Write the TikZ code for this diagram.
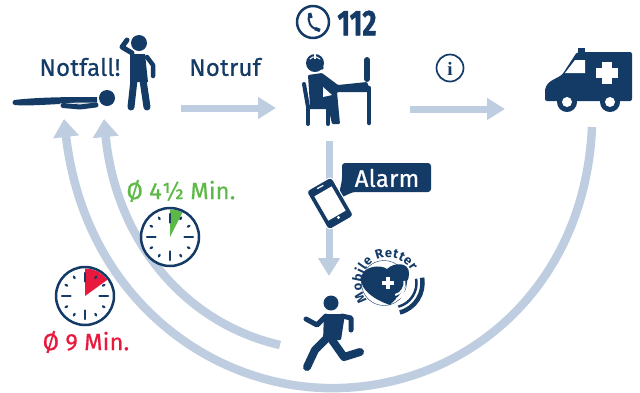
\documentclass[tikz,border=0pt]{standalone}
\usepackage{fontspec}
\setmainfont{Fira Sans}
\newfontfamily\infofont{Liberation Serif}
\newfontfamily\labelfont[FakeBold=0.7,LetterSpace=1]{Fira Sans}
\newfontfamily\numberfont[FakeStretch=0.76,BoldFeatures={FakeBold=1}]{Fira Sans}
\usetikzlibrary{arrows.meta}
\definecolor{navy}{HTML}{143A66}
\definecolor{flow}{HTML}{BFCDE0}
\definecolor{okgreen}{HTML}{5DB947}
\definecolor{alertred}{HTML}{E8193C}
\begin{document}
\begin{tikzpicture}[x=1pt,y=-1pt,line cap=round,line join=round,
  every node/.style={inner sep=0pt},
  caption/.style={text=navy,font=\fontsize{24}{24}\labelfont},
  timelabel/.style={font=\fontsize{23.5}{24}\labelfont},
  logoletter/.style={text=navy,anchor=base,font=\fontsize{13}{13}\selectfont\bfseries},
  flowthin/.style={flow,line width=7pt,line cap=butt,-{Triangle[length=18pt,width=21pt]}},
  flowwide/.style={flow,line width=8.5pt,line cap=butt,-{Triangle[length=18pt,width=25pt]}},
  limb/.style={navy,line width=#1},
  limb/.default=6pt]
\useasboundingbox (0,0) rectangle (640,392);

% end points of the flow arrows
\coordinate (callstart) at (181,108);
\coordinate (callend) at (276,108);
\coordinate (infostart) at (410,109);
\coordinate (infoend) at (505,109);
\coordinate (alarmstart) at (329,141);
\coordinate (alarmend) at (329,276);
\coordinate (ambulancestart) at (592,127);
\coordinate (patientfar) at (64,119);
\coordinate (runnerstart) at (280,345);
\coordinate (patientnear) at (104,119);

% flow arrows
\draw[flowthin] (callstart) -- (callend);
\draw[flowthin] (infostart) -- (infoend);
\draw[flowthin] (alarmstart) -- (alarmend);
\draw[flowwide] (ambulancestart) .. controls (585,285) and (470,384) .. (340,388)
  .. controls (215,392) and (85,300) .. (patientfar);
\draw[flowwide] (runnerstart) .. controls (180,322) and (115,235) .. (patientnear);

% lying patient
\fill[navy] (14,100) .. controls (40,97) and (70,97) .. (97,97) -- (97,103) -- (60,104)
  .. controls (40,105) and (25,106) .. (15,105) arc[start angle=90,end angle=270,radius=2.5];
\draw[white,line width=1pt] (60,104) -- (80,103) -- (98,103);
\draw[limb=5pt] (63,105.5) -- (80,107) -- (96,105);
\fill[navy] (107,98) circle[radius=8];

% standing witness
\fill[navy] (139,43) circle[radius=8];
\fill[navy] (130,54) -- (145,54) -- (148,82) -- (130,82) -- cycle;
\draw[limb=7pt] (134,80) -- (131,107);
\draw[limb=7pt] (143,80) -- (147,107);
\draw[limb=4.5pt] (147,57) -- (153,65) -- (153,76);
\draw[limb=5pt] (132,53) -- (122,47) -- (127,40);

% operator at the desk
\fill[navy] (315,63) circle[radius=9];
\draw[white,line width=1pt] (310,59) arc[start angle=-140,end angle=-40,radius=6.5];
\draw[white,line width=1.5pt,line cap=butt] (315,54) -- (315,59);
\fill[navy] (322,68) circle[radius=1.8];
\fill[navy,rounded corners=1pt] (308,75) -- (322,73) -- (338,85) -- (367,82) -- (371,92) -- (337,92)
  -- (340,124) -- (332,124) -- (328,106) -- (310,106) -- cycle;
\fill[white] (323,87) -- (332,95) -- (323,97) -- cycle;
\draw[limb=4pt] (304,84) -- (308,107) -- (328,107);
\draw[limb=4pt] (308,107) -- (308,124);
\draw[limb=4pt] (328,107) -- (328,124);
\draw[limb=4.5pt] (369,88) -- (369,123);
\draw[limb=6pt] (367,60) -- (367,79);

% ambulance
\fill[navy] (578,48) rectangle (585,53);
\fill[navy,rounded corners=2pt] (545,101) -- (545,88) -- (549,82) -- (562,75) -- (577,52) -- (632,52) -- (632,101) -- cycle;
\fill[white] (565,73) -- (575,60) -- (585,60) -- (585,73) -- cycle;
\fill[white] (602,62) rectangle (612,84);
\fill[white] (596,68) rectangle (618,78);
\foreach \wx in {567,610} {
  \fill[navy] (\wx,102) circle[radius=10];
  \fill[white] (\wx,102) circle[radius=5];
}

% emergency number and info sign
\draw[navy,line width=2.5pt] (313,22) circle[radius=16];
\draw[navy,line width=2pt,line cap=butt] (310,14) .. controls (306,21) and (311,29) .. (319,30);
\draw[navy,line width=3.5pt,line cap=butt] (309.5,13) -- (311,18);
\draw[navy,line width=3.5pt,line cap=butt] (315,28.5) -- (320,30.5);
\node[text=navy] (number) at (357,23) {\fontsize{36}{36}\numberfont\bfseries 112};
\draw[navy,line width=1.7pt] (450,68) circle[radius=13.5];
\node[text=navy] (infosign) at (450,68.5) {\fontsize{19}{19}\infofont\bfseries i};

% labels
\node[caption] (emergency) at (80,67) {Notfall!};
\node[caption] (callout) at (225,67) {Notruf};

% phone with alarm bubble
\fill[navy,rounded corners=3pt] (342,163) -- (431,163) -- (431,192) -- (353,192) -- (338,199) -- (342,180) -- cycle;
\node[text=white,font=\fontsize{24}{24}\labelfont] (alarm) at (387,178) {Alarm};
\node[draw=white,line width=1pt,fill=navy,rounded corners=3.5pt,rotate=30,minimum width=29pt,minimum height=45pt] (mobile) at (330,203.5) {};
\node[fill=white,rotate=30,minimum width=20pt,minimum height=28pt] (display) at (mobile.center) {};
\fill[white] (338.5,217.5) circle[radius=1.7];
\draw[white,line width=1.2pt] (317.5,188.5) -- (323,185.5);

% running helper
\fill[navy] (331,303) circle[radius=7.5];
\fill[navy,rounded corners=1pt] (324,314) -- (345,314) -- (341,340) -- (323,341) -- cycle;
\draw[limb=5pt] (326,316) -- (317,325) -- (306,319);
\draw[limb=5pt] (342,316) -- (351,318) -- (351,330);
\draw[limb=8pt] (327,338) -- (315,350) -- (307,367);
\draw[limb=8pt] (332,340) -- (344,357) -- (360,352);

% helper logo
\draw[navy,line width=.4pt] (384,283) circle[radius=22.5];
\fill[navy] (390,305) .. controls (375,300) and (360,290) .. (361,278)
  .. controls (363,266) and (380,264) .. (387,269)
  .. controls (394,262) and (409,262) .. (409,273)
  .. controls (409,285) and (400,295) .. (390,305) -- cycle;
\fill[white] (386,277) rectangle (390,289);
\fill[white] (382,281) rectangle (394,285);
\foreach \r/\w/\c in {12.5/2/white, 16.5/2/white, 20.5/2/white, 24.5/2.5/navy, 30.5/4.5/navy} {
  \draw[\c,line width=\w pt,line cap=butt] (392,283) ++(-10:\r) arc[start angle=-10,end angle=75,radius=\r];
}
\coordinate (logocentre) at (388,284);
\foreach \ch/\a [count=\i] in {M/152.5,o/174,b/192,i/205.6,l/214.9,e/228,R/253.4,e/271,t/285,t/297,e/311,r/325.5} {
  \pgfmathsetmacro{\tilt}{-\a-90}
  \node[logoletter,rotate=\tilt] (logo\i) at ([shift={(\a:26.5)}]logocentre) {\ch};
}

% clocks
\foreach \cx/\cy/\cc/\ca in {170/237/okgreen/27, 85/296/alertred/54} {
  \begin{scope}[shift={(\cx,\cy)}]
    \fill[white] (0,0) circle[radius=29];
    \fill[\cc] (0,0) -- (-90:27.5) arc[start angle=-90,delta angle=\ca,radius=27.5] -- cycle;
    \draw[navy,line width=2.5pt] (0,0) circle[radius=29];
    \foreach \t in {0,90,180,270} \draw[navy,line width=2.2pt] (\t:14.5) -- (\t:23);
    \foreach \t in {30,60,120,150,210,240,300,330} \draw[navy,line width=2.2pt] (\t:20.5) -- (\t:22.5);
  \end{scope}
}
\node[text=okgreen,timelabel] (greentime) at (181,191) {Ø 4½ Min.};
\node[text=alertred,timelabel] (redtime) at (86,342) {Ø 9 Min.};

\end{tikzpicture}
\end{document}
